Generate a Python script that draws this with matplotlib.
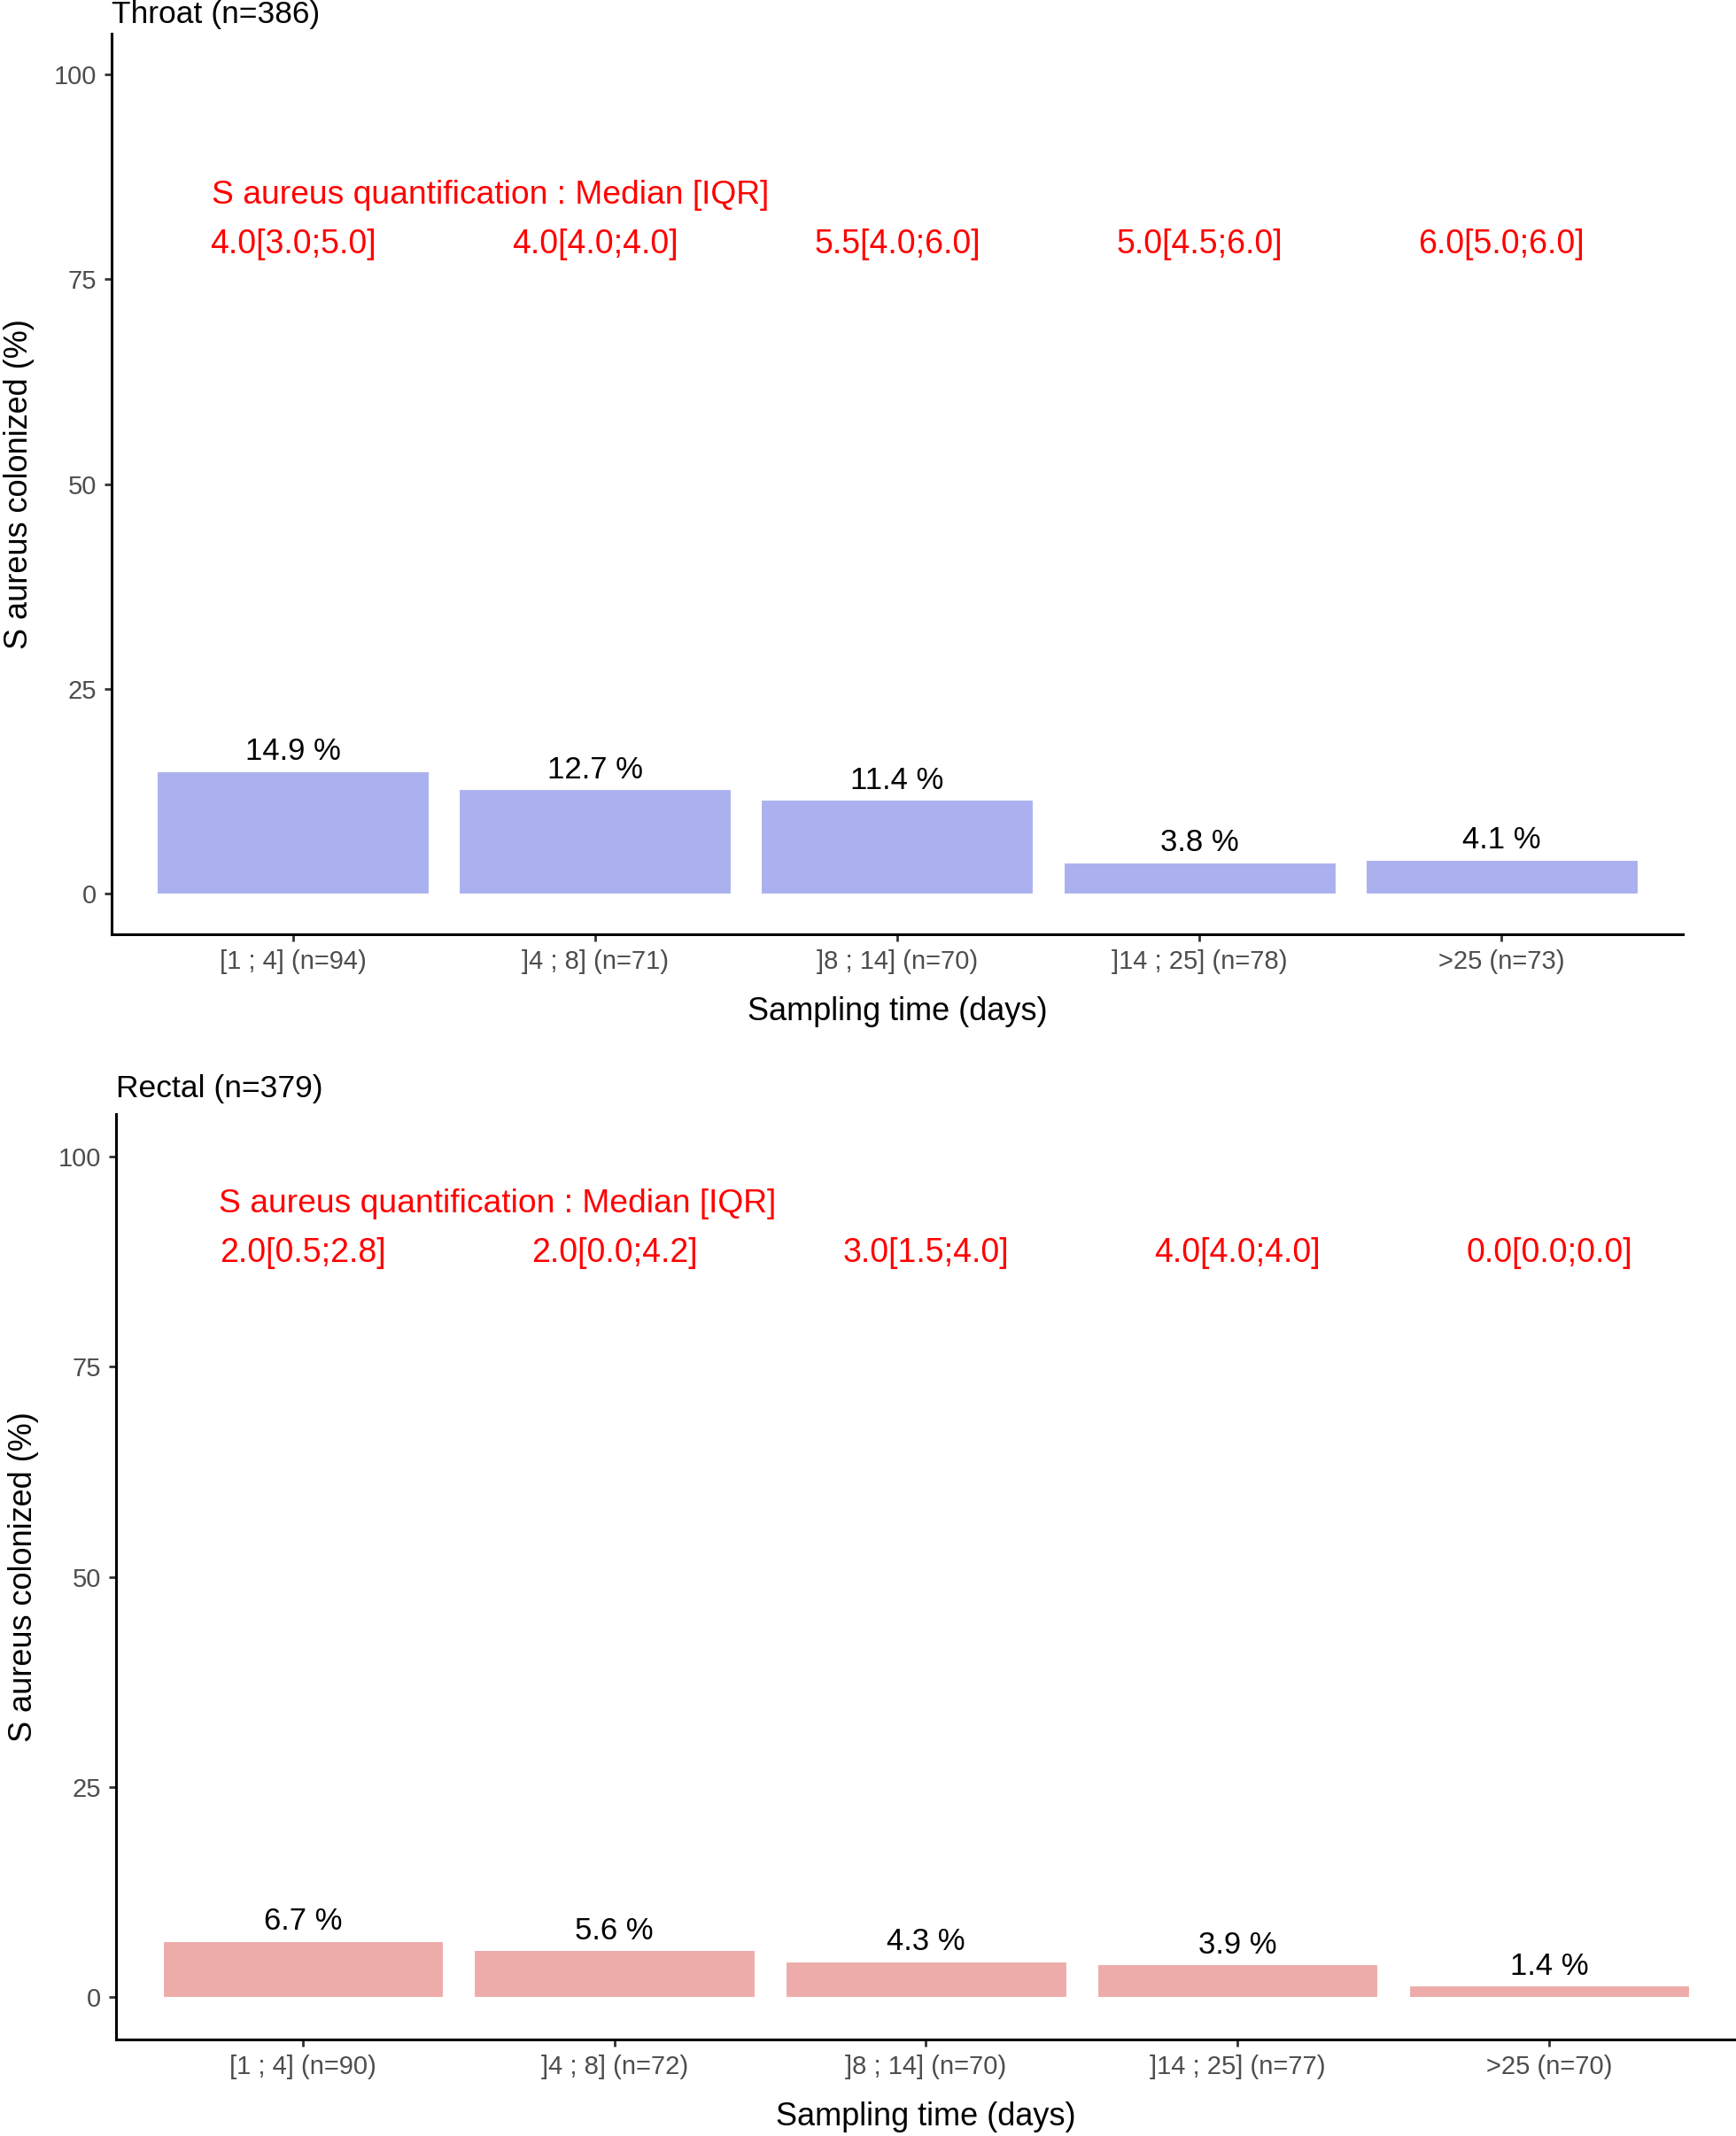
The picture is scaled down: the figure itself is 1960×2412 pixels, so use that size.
import matplotlib
matplotlib.use("Agg")
import matplotlib.pyplot as plt

plt.rcParams['font.family'] = ['Liberation Sans', 'DejaVu Sans']

# dados
throat_labels = ["[1 ; 4] (n=94)", "]4 ; 8] (n=71)", "]8 ; 14] (n=70)", "]14 ; 25] (n=78)", ">25 (n=73)"]
throat_pct = [14.9, 12.7, 11.4, 3.8, 4.1]
throat_iqr = ["4.0[3.0;5.0]", "4.0[4.0;4.0]", "5.5[4.0;6.0]", "5.0[4.5;6.0]", "6.0[5.0;6.0]"]

rectal_labels = ["[1 ; 4] (n=90)", "]4 ; 8] (n=72)", "]8 ; 14] (n=70)", "]14 ; 25] (n=77)", ">25 (n=70)"]
rectal_pct = [6.7, 5.6, 4.3, 3.9, 1.4]
rectal_iqr = ["2.0[0.5;2.8]", "2.0[0.0;4.2]", "3.0[1.5;4.0]", "4.0[4.0;4.0]", "0.0[0.0;0.0]"]

header = "S aureus quantification : Median [IQR]"


def painel(ax, titulo, labels, pct, iqr, cor, y_head, y_iqr, title_pad):
    x = list(range(1, len(labels) + 1))
    ax.bar(x, pct, width=0.9, color=cor, edgecolor="white", linewidth=0.8)
    for xi, v in zip(x, pct):
        ax.annotate("%.1f %%" % v, (xi, v), xytext=(0, 4), textcoords="offset points",
                    ha="center", va="bottom", fontsize=25, color="black")
    ax.text(0.73, y_head, header, color="red", fontsize=26.8, ha="left", va="center")
    for xi, t in zip(x, iqr):
        ax.text(xi, y_iqr, t, color="red", fontsize=27, ha="center", va="center")

    ax.set_xlim(0.4, len(labels) + 0.6)
    ax.set_ylim(-5, 105)
    ax.set_xticks(x)
    ax.set_xticklabels(labels)
    ax.set_yticks([0, 25, 50, 75, 100])
    ax.tick_params(axis="both", labelsize=21, labelcolor="#4D4D4D", color="#333333",
                   length=6, width=2, pad=6)
    for s in ["top", "right"]:
        ax.spines[s].set_visible(False)
    for s in ["left", "bottom"]:
        ax.spines[s].set_linewidth(2.2)
        ax.spines[s].set_color("black")
    ax.set_xlabel("Sampling time (days)", fontsize=26, labelpad=18.5)
    ax.set_ylabel("S aureus colonized (%)", fontsize=26, labelpad=16)
    ax.set_title(titulo, loc="left", fontsize=25.5, pad=title_pad)


fig = plt.figure(figsize=(19.6, 24.12), dpi=100)

ax1 = fig.add_axes([0.0643, 0.5626, 0.905, 0.4216])
painel(ax1, "Throat (n=386)", throat_labels, throat_pct, throat_iqr, "#AAB1EE", 85.3, 79.3, 9)

ax2 = fig.add_axes([0.0668, 0.0452, 0.9332, 0.4332])
painel(ax2, "Rectal (n=379)", rectal_labels, rectal_pct, rectal_iqr, "#EDACA9", 94.3, 88.5, 14)

plt.savefig("out.png", dpi=100)
plt.close()
